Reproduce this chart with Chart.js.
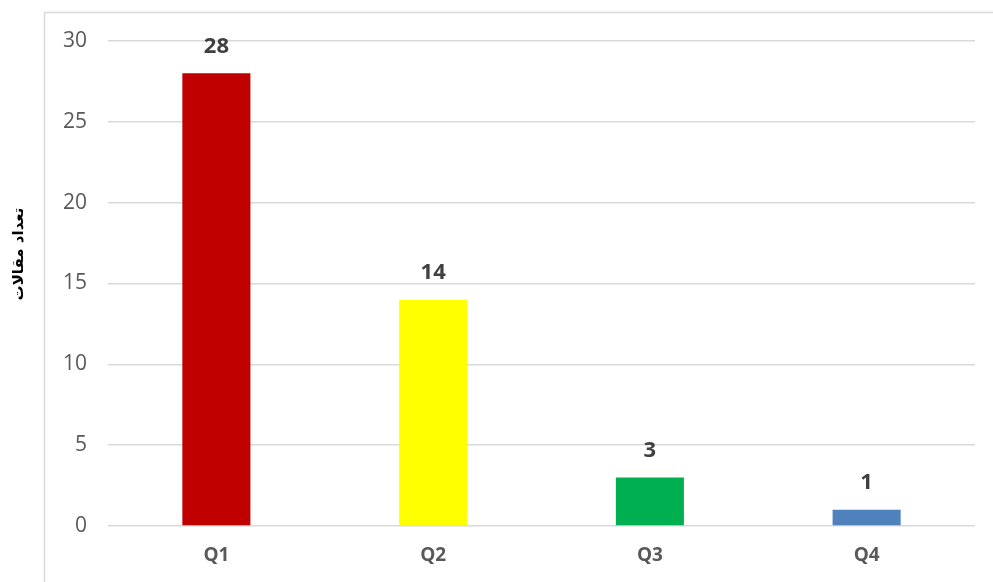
<!DOCTYPE html>
<html><head><meta charset="utf-8">
<script src="https://cdn.jsdelivr.net/npm/chart.js@4"></script>
<style>html,body{margin:0;padding:0;background:#fff}#wrap{width:993px;height:582px;position:relative}</style>
</head><body><div id="wrap"><canvas id="c" width="993" height="582"></canvas></div>
<script>
const categories = ["Q1","Q2","Q3","Q4"];
const values = [28,14,3,1];
const barColors = ["#C00000","#FFFF00","#00B050","#4F81BD"];
const yTitle = "تعداد مقالات";
const yTicks = [0,5,10,15,20,25,30];

const borderPlugin = {
  id:'frame',
  beforeDraw(chart){
    const ctx = chart.ctx;
    ctx.save();
    ctx.fillStyle='#fff';ctx.fillRect(0,0,chart.width,chart.height);
    ctx.strokeStyle='#d9d9d9';ctx.lineWidth=1.5;
    ctx.beginPath();
    ctx.moveTo(44.5,chart.height+5);ctx.lineTo(44.5,12.5);ctx.lineTo(chart.width+5,12.5);
    ctx.stroke();
    ctx.restore();
  }
};
const titlePlugin = {
  id:'ytitle',
  afterDraw(chart){
    const ctx=chart.ctx;
    ctx.save();
    ctx.translate(19,254);
    ctx.rotate(-Math.PI/2);
    ctx.font='bold 15px "DejaVu Sans", sans-serif';
    ctx.fillStyle='#000';ctx.textAlign='center';ctx.textBaseline='middle';
    ctx.fillText(yTitle,0,0);
    ctx.restore();
  }
};
const labelPlugin = {
  id:'vals',
  afterDatasetsDraw(chart){
    const ctx=chart.ctx, meta=chart.getDatasetMeta(0);
    ctx.save();
    ctx.font='bold 22px "Open Sans", sans-serif';
    ctx.fillStyle='#404040';ctx.textAlign='center';ctx.textBaseline='middle';
    meta.data.forEach((el,i)=>{ctx.fillText(String(values[i]),el.x,el.y-27);});
    ctx.restore();
  }
};
new Chart(document.getElementById('c'),{
  type:'bar',
  data:{labels:categories,datasets:[{data:values,backgroundColor:barColors,categoryPercentage:1,barPercentage:0.314}]},
  options:{
    responsive:false,animation:false,
    layout:{padding:{top:41,right:18,left:0,bottom:0}},
    plugins:{legend:{display:false},tooltip:{enabled:false}},
    scales:{
      x:{grid:{display:false,drawTicks:false},border:{display:false},
         ticks:{color:'#595959',font:{family:'"Open Sans", sans-serif',size:19,weight:'bold'},padding:18},
         afterFit(s){s.height=56;}},
      y:{min:0,max:30,afterBuildTicks(s){s.ticks=yTicks.map(v=>({value:v}));},
         grid:{color:'#d9d9d9',lineWidth:1.5,drawTicks:false},border:{display:false},
         ticks:{color:'#595959',font:{family:'"Open Sans", sans-serif',size:21},padding:21},
         afterFit(s){s.width=108;}}
    }
  },
  plugins:[borderPlugin,labelPlugin,titlePlugin]
});
</script></body></html>
